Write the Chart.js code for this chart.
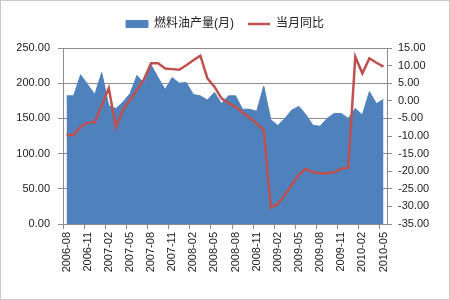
<!DOCTYPE html>
<html>
<head>
<meta charset="utf-8">
<script src="https://cdn.jsdelivr.net/npm/chart.js@4"></script>
<style>
  html, body { margin: 0; padding: 0; background: #fff; }
  #wrap { width: 450px; height: 300px; }
</style>
</head>
<body>
<div id="wrap"><canvas id="fuelChart" width="450" height="300"></canvas></div>
<script>
const months = [
  '2006-08', '2006-09', '2006-10', '2006-11', '2006-12', '2007-01', '2007-02', '2007-03',
  '2007-04', '2007-05', '2007-06', '2007-07', '2007-08', '2007-09', '2007-10', '2007-11',
  '2007-12', '2008-01', '2008-02', '2008-03', '2008-04', '2008-05', '2008-06', '2008-07',
  '2008-08', '2008-09', '2008-10', '2008-11', '2008-12', '2009-01', '2009-02', '2009-03',
  '2009-04', '2009-05', '2009-06', '2009-07', '2009-08', '2009-09', '2009-10', '2009-11',
  '2009-12', '2010-01', '2010-02', '2010-03', '2010-04', '2010-05'
]

// 燃料油产量(月), left axis
const output = [
  182, 182, 212, 198, 184, 215, 168, 164, 173, 185,
  211, 200, 226, 208, 191, 208, 200, 201, 184, 182,
  176, 187, 171, 182, 182, 163, 163, 160, 196, 148,
  140, 150, 162, 167, 155, 140, 139, 150, 157, 157,
  150, 164, 155, 188, 171, 177
]

// 当月同比, right axis
const yoy = [
  -9.7, -9.7, -7.4, -6.2, -6.1, -1.3, 3.6, -7.6, -2.6, 0.2,
  3.1, 6.1, 10.7, 10.7, 9.2, 9.0, 8.8, 10.1, 11.5, 12.8,
  6.4, 4.0, 0.7, -0.7, -1.7, -3.3, -4.8, -6.5, -8.3, -30.3,
  -29.3, -26.8, -23.8, -21.0, -19.3, -20.3, -20.6, -20.6, -20.3, -19.3,
  -19.0, 12.5, 7.8, 12.1, 10.8, 9.7
]

const leftTicks = [0, 50, 100, 150, 200, 250]
const rightTicks = [-35, -30, -25, -20, -15, -10, -5, 0, 5, 10, 15]

const FONT = "'Liberation Sans', 'Noto Sans CJK SC', sans-serif"
const AXIS_GRAY = '#8c8c8c'

// thin frame round the whole picture, plus extra room under the legend
const framePlugin = {
  id: 'frame',
  afterInit(chart) {
    const legend = chart.legend
    if (legend) {
      const origFit = legend.fit
      legend.fit = function () {
        origFit.call(this)
        this.height += 8
      }
    }
  },
  afterDraw(chart) {
    const c = chart.ctx
    c.save()
    c.strokeStyle = '#c8c8c8'
    c.lineWidth = 1
    c.strokeRect(0.5, 0.5, chart.width - 1, chart.height - 1)
    c.restore()
  }
}

const ctx = document.getElementById('fuelChart').getContext('2d')

const chart = new Chart(ctx, {
  type: 'line',
  data: {
    labels: months,
    datasets: [
      {
        label: '燃料油产量(月)',
        data: output,
        yAxisID: 'y',
        borderColor: '#4F81BD',
        backgroundColor: '#4F81BD',
        borderWidth: 1,
        fill: 'origin',
        pointRadius: 0,
        tension: 0,
        order: 2,
        pointStyle: 'rect'
      },
      {
        label: '当月同比',
        data: yoy,
        yAxisID: 'y1',
        borderColor: '#C0504D',
        backgroundColor: '#C0504D',
        borderWidth: 2.5,
        fill: false,
        pointRadius: 0,
        tension: 0,
        order: 1,
        pointStyle: 'line'
      }
    ]
  },
  options: {
    responsive: false,
    animation: false,
    layout: { padding: { top: 4, right: 0, bottom: 0, left: 0 } },
    plugins: {
      legend: {
        position: 'top',
        labels: {
          usePointStyle: true,
          pointStyleWidth: 22,
          boxHeight: 7,
          padding: 14,
          color: '#222',
          font: { family: FONT, size: 12 },
          sort: (a, b) => a.datasetIndex - b.datasetIndex
        }
      },
      tooltip: { enabled: false }
    },
    scales: {
      x: {
        offset: true,
        grid: {
          offset: true,
          drawOnChartArea: false,
          tickLength: 5,
          color: c => (c.index % 3 === 0 ? AXIS_GRAY : 'rgba(0,0,0,0)')
        },
        border: { color: AXIS_GRAY },
        ticks: {
          autoSkip: false,
          maxRotation: 90,
          minRotation: 90,
          color: '#222',
          font: { family: FONT, size: 11 },
          callback: (v, i) => (i % 3 === 0 ? months[i] : '')
        },
        afterFit: s => { s.height = 76 }
      },
      y: {
        position: 'left',
        min: 0,
        max: 250,
        afterBuildTicks: s => { s.ticks = leftTicks.map(v => ({ value: v })) },
        grid: { color: AXIS_GRAY, tickLength: 5 },
        border: { color: AXIS_GRAY },
        ticks: {
          color: '#222',
          padding: 8,
          font: { family: FONT, size: 11 },
          callback: v => v.toFixed(2)
        },
        afterFit: s => { s.width = 63 }
      },
      y1: {
        position: 'right',
        min: -35,
        max: 15,
        afterBuildTicks: s => { s.ticks = rightTicks.map(v => ({ value: v })) },
        grid: { drawOnChartArea: false, color: AXIS_GRAY, tickLength: 5 },
        border: { color: AXIS_GRAY },
        ticks: {
          color: '#222',
          padding: 6,
          font: { family: FONT, size: 11 },
          callback: v => v.toFixed(2)
        },
        afterFit: s => { s.width = 63 }
      }
    }
  },
  plugins: [framePlugin]
})
</script>
</body>
</html>
